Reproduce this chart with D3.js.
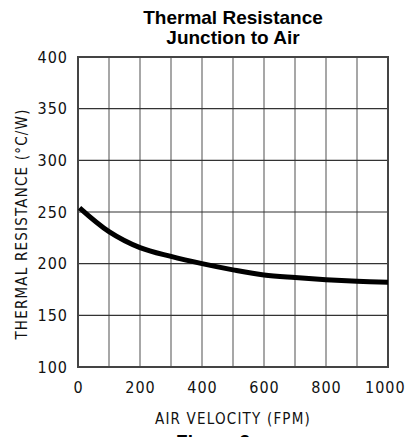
<!DOCTYPE html>
<html>
<head>
<meta charset="utf-8">
<script src="https://cdn.jsdelivr.net/npm/d3@7"></script>
<style>
  body { margin: 0; background: #fff; }
  .tick text { font-family: "DejaVu Sans Condensed", "DejaVu Sans", sans-serif; font-size: 16px; letter-spacing: 1px; fill: #111; }
  .lbl { font-family: "DejaVu Sans Condensed", "DejaVu Sans", sans-serif; font-size: 15px; letter-spacing: 1.2px; fill: #111; }
  .title { font-family: "Liberation Sans", Arial, sans-serif; font-weight: bold; font-size: 19px; fill: #000; }
</style>
</head>
<body>
<div id="chart"></div>
<script>
// data
var velocity = [5, 100, 200, 300, 400, 500, 600, 700, 800, 900, 1000];
var resistance = [254, 231, 215.5, 207, 200, 194, 189, 186.5, 184.5, 183, 182];
var xTicks = [0, 200, 400, 600, 800, 1000];
var yTicks = [100, 150, 200, 250, 300, 350, 400];
var xGrid = [100, 200, 300, 400, 500, 600, 700, 800, 900];

var margin = {top: 57, right: 19, bottom: 70, left: 78},
    width = 407 - margin.left - margin.right,
    height = 437 - margin.top - margin.bottom;

var svg = d3.select("#chart")
  .append("svg")
    .attr("width", 407)
    .attr("height", 437)
  .append("g")
    .attr("transform", "translate(" + margin.left + "," + margin.top + ")");

var x = d3.scaleLinear().domain([0, 1000]).range([0, width]);
var y = d3.scaleLinear().domain([100, 400]).range([height, 0]);

// vertical grid (gray)
svg.append("g")
  .selectAll("line")
  .data(xGrid)
  .enter()
  .append("line")
    .attr("x1", function(d) { return x(d); })
    .attr("x2", function(d) { return x(d); })
    .attr("y1", 0)
    .attr("y2", height)
    .style("stroke", "#8a8a8a")
    .style("stroke-width", 1.5);

// horizontal grid (dark)
svg.append("g")
  .selectAll("line")
  .data(yTicks.slice(1, -1))
  .enter()
  .append("line")
    .attr("x1", 0)
    .attr("x2", width)
    .attr("y1", function(d) { return y(d); })
    .attr("y2", function(d) { return y(d); })
    .style("stroke", "#333")
    .style("stroke-width", 1.2);

// frame
svg.append("rect")
  .attr("width", width)
  .attr("height", height)
  .style("fill", "none")
  .style("stroke", "#444")
  .style("stroke-width", 2);

// X axis
var xAxis = svg.append("g")
  .attr("transform", "translate(0," + height + ")")
  .call(d3.axisBottom(x).tickValues(xTicks).tickFormat(d3.format("d")).tickSize(0).tickPadding(15));
xAxis.select(".domain").remove();
xAxis.selectAll(".tick:last-of-type text").attr("dx", "-0.2em");

// Y axis
var yAxis = svg.append("g")
  .call(d3.axisLeft(y).tickValues(yTicks).tickSize(0).tickPadding(10));
yAxis.select(".domain").remove();

// curve
var line = d3.line()
  .x(function(d, i) { return x(velocity[i]); })
  .y(function(d) { return y(d); })
  .curve(d3.curveCatmullRom.alpha(0.5));

svg.append("path")
  .datum(resistance)
  .attr("d", line)
  .style("fill", "none")
  .style("stroke", "#000")
  .style("stroke-width", 5)
  .style("stroke-linecap", "butt");

// title
svg.append("text")
  .attr("class", "title")
  .attr("x", width / 2)
  .attr("y", -33)
  .attr("text-anchor", "middle")
  .text("Thermal Resistance");
svg.append("text")
  .attr("class", "title")
  .attr("x", width / 2)
  .attr("y", -13)
  .attr("text-anchor", "middle")
  .text("Junction to Air");

// axis titles
svg.append("text")
  .attr("class", "lbl")
  .attr("transform", "rotate(-90)")
  .attr("x", -height / 2 - 12)
  .attr("y", -51)
  .attr("text-anchor", "middle")
  .text("THERMAL RESISTANCE (\u00B0C/W)");

svg.append("text")
  .attr("class", "lbl")
  .attr("x", width / 2)
  .attr("y", height + 57)
  .attr("text-anchor", "middle")
  .text("AIR VELOCITY (FPM)");

// caption, cut off at the bottom edge
svg.append("text")
  .attr("class", "title")
  .attr("x", width / 2 - 20)
  .attr("y", height + 81)
  .attr("text-anchor", "middle")
  .text("Figure 2");
</script>
</body>
</html>
